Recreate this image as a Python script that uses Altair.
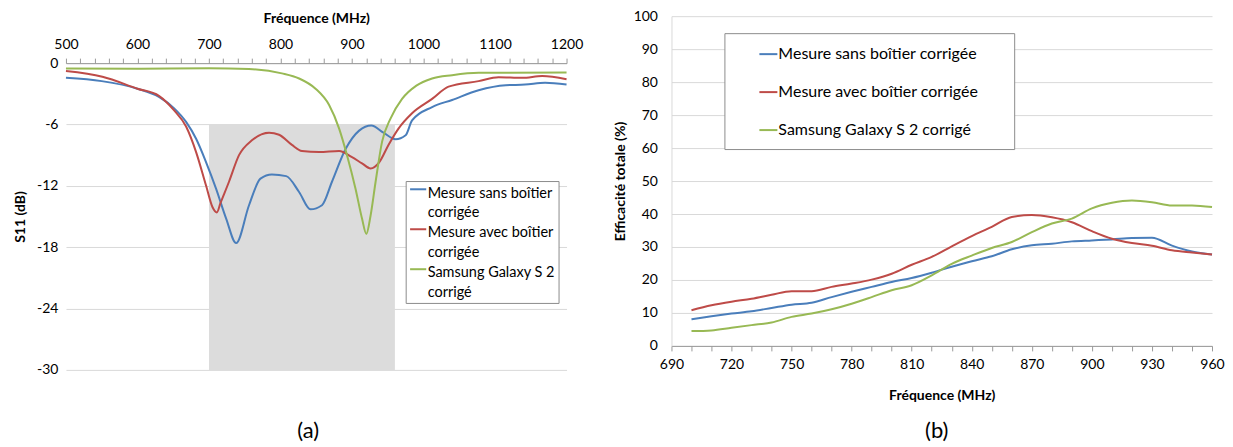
import altair as alt
import pandas as pd

FONT = "Lato"

series_names = [
    "Mesure sans boîtier corrigée",
    "Mesure avec boîtier corrigée",
    "Samsung Galaxy S 2 corrigé",
]
series_colors = ["#4A7EBB", "#BE4B48", "#98B954"]

# ---------- panel (a) : S11 (dB) vs frequency ----------
freq_a_blue = [500, 550, 600, 630, 651, 668, 682, 696, 710, 724, 738, 756, 772, 788, 808,
               826, 842, 858, 872, 891, 910, 927, 944, 961, 975, 984, 1012, 1040, 1077,
               1115, 1142, 1170, 1200]
s11_a_blue = [-1.44, -1.76, -2.5, -3.3, -4.4, -5.75, -7.4, -9.7, -12.3, -15.2, -17.6, -13.9,
              -11.3, -10.9, -11.05, -12.6, -14.3, -13.9, -11.6, -8.4, -6.6, -6.1, -6.8, -7.45,
              -7.06, -5.6, -4.3, -3.6, -2.65, -2.16, -2.1, -1.93, -2.1]

freq_a_red = [500, 551, 600, 630, 651, 668, 682, 696, 705, 711, 716, 728, 742, 760, 784, 798,
              816, 830, 854, 882, 900, 914, 926, 938, 951, 965, 984, 1012, 1035, 1077, 1105,
              1138, 1166, 1200]
s11_a_red = [-0.78, -1.34, -2.5, -3.2, -4.6, -6.2, -8.7, -12.0, -14.1, -14.6, -13.7, -11.6,
             -9.0, -7.55, -6.8, -7.0, -8.0, -8.6, -8.7, -8.6, -9.2, -9.8, -10.3, -9.7, -8.0,
             -6.4, -4.9, -3.5, -2.3, -1.76, -1.37, -1.44, -1.27, -1.57]

freq_a_green = [500, 600, 700, 756, 802, 826, 849, 868, 882, 893, 905, 914, 920, 926, 933,
                942, 954, 970, 990, 1012, 1040, 1077, 1200]
s11_a_green = [-0.52, -0.55, -0.5, -0.58, -1.0, -1.5, -2.5, -4.1, -6.4, -9.0, -12.3, -15.2,
               -16.7, -14.9, -11.6, -7.7, -5.4, -3.5, -2.2, -1.5, -1.18, -0.95, -0.92]

band_start = [700]
band_end = [960]
band_top = [-6]
band_bottom = [-30]

# ---------- panel (b) : total efficiency (%) vs frequency ----------
freq_b = [700, 710, 720, 730, 740, 750, 760, 770, 780, 790, 800, 810, 820, 830, 840, 850,
          860, 870, 880, 890, 900, 910, 920, 930, 940, 950, 960]
eff_b_blue = [8.1, 9.0, 9.8, 10.5, 11.5, 12.5, 13.1, 14.8, 16.4, 17.9, 19.4, 20.6, 22.2, 24.0,
              25.7, 27.2, 29.3, 30.5, 31.0, 31.7, 32.0, 32.3, 32.7, 32.8, 30.4, 28.6, 27.7]
eff_b_red = [10.8, 12.3, 13.4, 14.3, 15.5, 16.6, 16.6, 17.9, 18.9, 20.1, 21.9, 24.6, 27.0,
             30.2, 33.3, 36.1, 39.1, 39.7, 39.0, 37.5, 34.8, 32.5, 31.2, 30.4, 29.0, 28.3, 27.7]
eff_b_green = [4.5, 4.7, 5.5, 6.3, 7.1, 8.8, 9.8, 11.1, 12.8, 14.8, 16.9, 18.4, 21.4, 24.9,
               27.4, 29.7, 31.5, 34.5, 37.1, 38.6, 41.7, 43.4, 44.1, 43.6, 42.6, 42.6, 42.1]

# ---------- tables ----------
rows_a = []
for name, fs, vs in zip(series_names,
                        [freq_a_blue, freq_a_red, freq_a_green],
                        [s11_a_blue, s11_a_red, s11_a_green]):
    for f, v in zip(fs, vs):
        rows_a.append({"series": name, "freq": f, "s11": v})
df_a = pd.DataFrame(rows_a)

df_band = pd.DataFrame({"freq": band_start, "freq_end": band_end,
                        "s11": band_top, "s11_end": band_bottom})

rows_b = []
for name, vs in zip(series_names, [eff_b_blue, eff_b_red, eff_b_green]):
    for f, v in zip(freq_b, vs):
        rows_b.append({"series": name, "freq": f, "eff": v})
df_b = pd.DataFrame(rows_b)

AXIS_GRAY = "#9a9a9a"
GRID = "#d9d9d9"

# panel (a) plot spans the same height as panel (b); the 0 dB axis sits 47 px below its top
A_HEIGHT = 354
A_AXIS_POS = 47
A_TOP = A_AXIS_POS * 30 / (A_HEIGHT - A_AXIS_POS)

# ---------- panel (a) ----------
x_a = alt.X(
    "freq:Q",
    scale=alt.Scale(domain=[500, 1200], nice=False, zero=False),
    axis=alt.Axis(
        orient="top", title="Fréquence (MHz)", offset=-A_AXIS_POS,
        values=list(range(500, 1201, 20)),
        labelExpr="datum.value % 100 === 0 ? '' + datum.value : ''",
        grid=False, tickSize=5, tickColor=AXIS_GRAY, domainColor=AXIS_GRAY,
        labelPadding=7, titlePadding=12, labelFlush=False, labelOverlap=False,
    ),
)
y_a = alt.Y(
    "s11:Q",
    scale=alt.Scale(domain=[-30, A_TOP], nice=False, zero=False),
    axis=alt.Axis(
        values=[-30, -24, -18, -12, -6, 0], title="S11 (dB)",
        titleY=A_AXIS_POS + (A_HEIGHT - A_AXIS_POS) / 2,
        labelExpr="'' + datum.value", grid=True, gridColor=GRID,
        domain=False, ticks=False, labelPadding=8, titlePadding=9,
    ),
)

band = alt.Chart(df_band).mark_rect(color="#dcdcdc").encode(
    x=x_a, x2="freq_end:Q", y=y_a, y2="s11_end:Q"
)

lines_a = alt.Chart(df_a).mark_line(interpolate="monotone", strokeWidth=2).encode(
    x=x_a, y=y_a,
    color=alt.Color(
        "series:N",
        scale=alt.Scale(domain=series_names, range=series_colors),
        legend=alt.Legend(
            title=None, orient="none", legendX=340, legendY=165,
            fillColor="white", strokeColor="#8c8c8c", padding=3,
            labelFont=FONT, labelFontSize=14.5, labelColor="#000000", labelLimit=400,
            rowPadding=4, symbolType="M-0.95,-0.5H0.95", symbolSize=289,
            symbolStrokeWidth=2, labelOffset=0, labelBaseline="middle",
            labelExpr="[slice(datum.label, 0, lastindexof(datum.label, ' ')), "
                      "slice(datum.label, lastindexof(datum.label, ' ') + 1) + '\u2003\u200b']",
        ),
    ),
)

panel_a = alt.layer(band, lines_a).properties(
    width=501, height=A_HEIGHT,
    title=alt.TitleParams("(a)", orient="bottom", fontSize=22, fontWeight="normal",
                          font=FONT, offset=44, anchor="middle", dx=-8, color="#000000"),
)

# ---------- panel (b) ----------
x_b = alt.X(
    "freq:Q",
    scale=alt.Scale(domain=[690, 960], nice=False, zero=False),
    axis=alt.Axis(
        title="Fréquence (MHz)", values=list(range(690, 961, 10)),
        labelExpr="(datum.value - 690) % 30 === 0 ? '' + datum.value : ''",
        grid=False, tickSize=5, tickColor=AXIS_GRAY, domainColor=AXIS_GRAY,
        labelPadding=7, titlePadding=17, labelFlush=False, labelOverlap=False,
    ),
)
y_b = alt.Y(
    "eff:Q",
    scale=alt.Scale(domain=[0, 100], nice=False),
    axis=alt.Axis(
        values=list(range(0, 101, 10)), title="Efficacité totale (%)",
        grid=True, gridColor=GRID, domainColor=GRID, ticks=False,
        labelPadding=14, titlePadding=6,
    ),
)

lines_b = alt.Chart(df_b).mark_line(interpolate="monotone", strokeWidth=2).encode(
    x=x_b, y=y_b,
    color=alt.Color(
        "series:N",
        scale=alt.Scale(domain=series_names, range=series_colors),
        legend=alt.Legend(
            title=None, orient="none", legendX=53, legendY=17,
            fillColor="white", strokeColor="#8c8c8c", padding=11,
            labelFont=FONT, labelFontSize=16, labelColor="#000000", labelLimit=500,
            rowPadding=20, symbolType="stroke", symbolSize=324, symbolStrokeWidth=2,
            symbolOffset=23, labelOffset=0,
            labelExpr="datum.label + '\u2003\u2003\u200b'",
        ),
    ),
)

panel_b = lines_b.properties(
    width=541, height=330,
    title=alt.TitleParams("(b)", orient="bottom", fontSize=22, fontWeight="normal",
                          font=FONT, offset=18, anchor="middle", dx=-5, color="#000000"),
)

chart = (
    alt.hconcat(panel_a, panel_b, spacing=29)
    .resolve_scale(color="independent")
    .properties(padding={"left": 5, "top": 1, "right": 0, "bottom": 0})
    .configure(font=FONT, style={"guide-label": {"lineHeight": 20}})
    .configure_view(stroke=None)
    .configure_axis(
        labelFont=FONT, labelFontSize=14, labelColor="#000000",
        titleFont=FONT, titleFontSize=14, titleFontWeight="bold", titleColor="#000000",
    )
)

chart.save("out.html", embed_options={"renderer": "svg", "actions": False})
